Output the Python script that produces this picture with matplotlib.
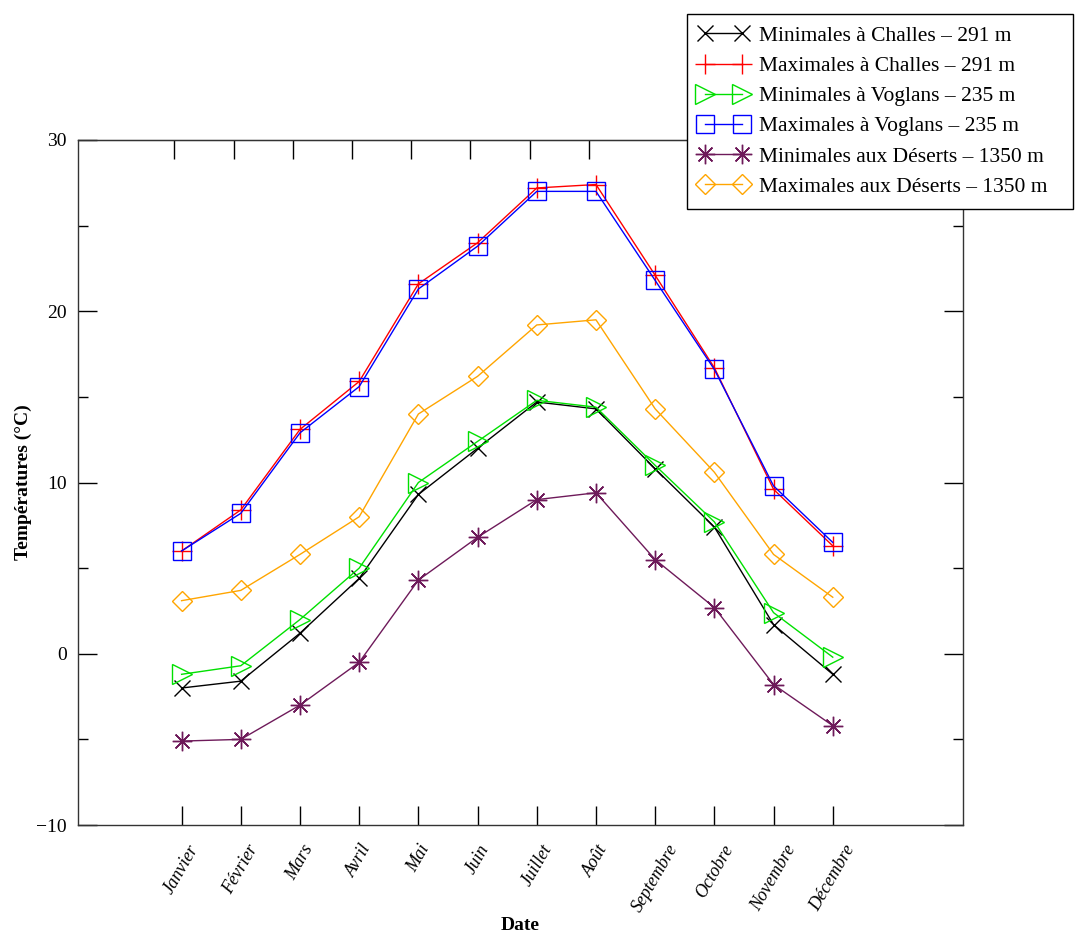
import matplotlib
matplotlib.use('Agg')
import matplotlib.pyplot as plt

plt.rcParams['font.family'] = ['Liberation Serif', 'DejaVu Serif']

# Monthly mean temperatures (°C)
months = ['Janvier', 'Février', 'Mars', 'Avril', 'Mai', 'Juin', 'Juillet',
          'Août', 'Septembre', 'Octobre', 'Novembre', 'Décembre']

min_challes = [-2.0, -1.6, 1.2, 4.4, 9.3, 12.0, 14.7, 14.3, 10.8, 7.4, 1.7, -1.2]
max_challes = [6.0, 8.4, 13.1, 15.9, 21.6, 24.0, 27.2, 27.4, 22.1, 16.7, 9.6, 6.3]
min_voglans = [-1.2, -0.7, 2.0, 5.0, 10.0, 12.4, 14.8, 14.4, 11.0, 7.7, 2.4, -0.2]
max_voglans = [6.0, 8.2, 12.9, 15.6, 21.3, 23.8, 27.0, 27.0, 21.8, 16.6, 9.8, 6.5]
min_deserts = [-5.1, -5.0, -3.0, -0.5, 4.3, 6.8, 9.0, 9.4, 5.5, 2.7, -1.8, -4.2]
max_deserts = [3.1, 3.7, 5.8, 8.0, 14.0, 16.2, 19.2, 19.5, 14.3, 10.6, 5.8, 3.3]

labels = ['Minimales à Challes – 291 m', 'Maximales à Challes – 291 m',
          'Minimales à Voglans – 235 m', 'Maximales à Voglans – 235 m',
          'Minimales aux Déserts – 1350 m', 'Maximales aux Déserts – 1350 m']

series = [min_challes, max_challes, min_voglans, max_voglans, min_deserts, max_deserts]
colors = ['black', '#ff0000', '#00e000', '#0000ff', '#6e1a5a', '#ffa500']
markers = ['x', '+', '>', 's', (8, 2, 0), 'D']
msizes = [12, 15, 14, 12.5, 14, 10.5]

fig = plt.figure(figsize=(10.75, 9.36), dpi=100)
ax = fig.add_axes([78 / 1075, 1 - 825 / 936, (963 - 78) / 1075, (825 - 140) / 936])

x = list(range(len(months)))
handles = []
for ys, c, m, ms, lab in zip(series, colors, markers, msizes, labels):
    h, = ax.plot(x, ys, color=c, marker=m, markersize=ms, linewidth=1.0,
                 markerfacecolor='none', markeredgecolor=c, markeredgewidth=1.0,
                 label=lab)
    handles.append(h)

ax.set_xlim(-1.75, 13.2)
ax.set_ylim(-10, 30)
ax.set_yticks([-10, 0, 10, 20, 30])
ax.set_yticks([-5, 5, 15, 25], minor=True)
ax.set_xticks(x)
ax.set_xticklabels(months, rotation=60, ha='center', va='top',
                   fontstyle='italic', fontsize=13)

ax.tick_params(axis='y', which='major', direction='in', length=14, width=1,
               right=True, labelsize=14, pad=8)
ax.tick_params(axis='y', which='minor', direction='in', length=7, width=1,
               right=True)
ax.tick_params(axis='x', which='major', direction='in', length=14, width=1, pad=12)

# top ticks (slightly offset, as in the original), hidden under the key past August
top = ax.secondary_xaxis('top', functions=(lambda v: v + 0.12, lambda v: v - 0.12))
top.set_xticks(x[:8])
top.tick_params(direction='in', length=14, width=1, labeltop=False)

for s in ax.spines.values():
    s.set_linewidth(1.0)
    s.set_color('#333333')

ax.set_xlabel('Date', fontsize=14, fontweight='bold', labelpad=1)
ax.set_ylabel('Températures (°C)', fontsize=14, fontweight='bold', labelpad=3)

leg = fig.legend(handles=handles, loc='upper left',
                 bbox_to_anchor=(687 / 1075, 1 - 209 / 936, (1073 - 687) / 1075, 195 / 936),
                 mode='expand', numpoints=2, fontsize=15.5, frameon=True,
                 fancybox=False, edgecolor='black', framealpha=1,
                 borderaxespad=0, borderpad=0.55, labelspacing=0.47,
                 handlelength=2.3, handletextpad=0.5)
leg.get_frame().set_linewidth(1.0)

fig.savefig('out.png', dpi=100)
